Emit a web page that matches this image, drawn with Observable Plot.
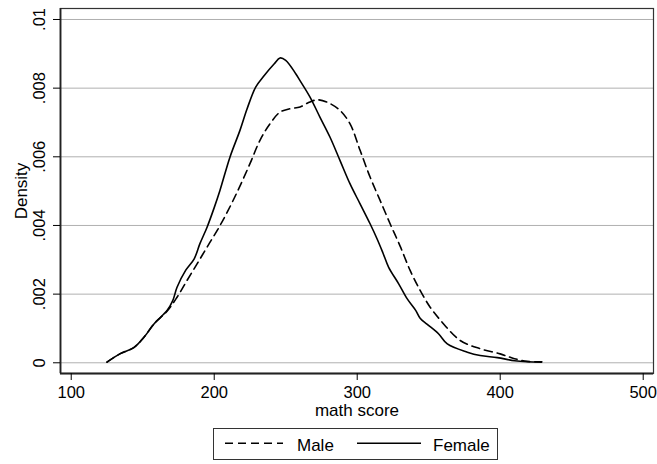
<!DOCTYPE html>
<html>
<head>
<meta charset="utf-8">
<script src="https://cdn.jsdelivr.net/npm/d3@7"></script>
<script src="https://cdn.jsdelivr.net/npm/@observablehq/plot@0.6"></script>
<style>
  html, body { margin: 0; padding: 0; background: #fff; }
  #wrap { position: relative; width: 657px; height: 464px; font-family: "Liberation Sans", Arial, sans-serif; }
  #legend { position: absolute; left: 213px; top: 428px; width: 285px; height: 32px; box-sizing: border-box; border: 1px solid #333; }
</style>
</head>
<body>
<div id="wrap"><div id="chart"></div><div id="legend"></div></div>
<script>
// Female (solid) kernel density: score, density
const femaleX = [125,134,144,151,158,167,171,174,180,186,190,195,200,204,211,218,223,229,235,242,246,250,257,260,267,274,281,288,295,302,309,314,318,322,329,335,341,344,349,357,363,377,386,398,410,419,429];
const femaleY = [0.00002,0.00026,0.00045,0.00075,0.00114,0.00152,0.00181,0.0022,0.00269,0.00303,0.00347,0.00395,0.00452,0.00502,0.00599,0.00677,0.0074,0.00803,0.00837,0.00871,0.00888,0.00881,0.00842,0.00822,0.00774,0.00715,0.00657,0.00589,0.00521,0.00463,0.00405,0.0036,0.0032,0.00278,0.0023,0.00186,0.00152,0.0013,0.00112,0.00084,0.00055,0.00031,0.00021,0.00015,0.00006,0.00003,0.00002];
// Male (dashed)
const maleX = [125,134,144,151,158,167,174,181,188,195,202,208,216,225,232,239,246,253,260,266,272,279,288,295,302,309,316,323,330,337,344,351,358,372,386,400,410,419,429];
const maleY = [0.00002,0.00026,0.00045,0.00075,0.00114,0.0015,0.00191,0.0024,0.00288,0.00337,0.00385,0.0043,0.00497,0.0058,0.00648,0.00696,0.0073,0.0074,0.00745,0.00758,0.00766,0.00759,0.00735,0.00696,0.00619,0.00541,0.00473,0.00405,0.0034,0.00269,0.00211,0.00162,0.00125,0.00065,0.00041,0.00026,0.00012,0.00004,0.00003];

const xTicks = [100,200,300,400,500];
const yTicks = [0,0.002,0.004,0.006,0.008,0.01];
const yTickLabels = ["0",".002",".004",".006",".008",".01"];
const seriesNames = ["Male","Female"];
const xTitle = "math score";
const yTitle = "Density";

const xDomain = [92.5, 507.2];
const yDomain = [-0.000312, 0.01032];

const female = femaleX.map((x,i) => ({x, y: femaleY[i]}));
const male = maleX.map((x,i) => ({x, y: maleY[i]}));

const chart = Plot.plot({
  width: 657, height: 420,
  marginLeft: 60, marginRight: 4, marginTop: 8, marginBottom: 47,
  x: {domain: xDomain},
  y: {domain: yDomain},
  style: {fontFamily: '"Liberation Sans", Arial, sans-serif', fontSize: "16.5px", color: "#000", background: "#fff"},
  marks: [
    Plot.gridY(yTicks, {stroke: "#b0b0b0", strokeOpacity: 1, strokeWidth: 1}),
    Plot.frame({stroke: "#333", strokeWidth: 1.2}),
    Plot.ruleX([xDomain[0]], {stroke: "#222", strokeWidth: 1.8}),
    Plot.ruleY([yDomain[0]], {stroke: "#222", strokeWidth: 1.8}),
    Plot.line(male, {x: "x", y: "y", stroke: "#000", strokeWidth: 1.6, strokeDasharray: "8,5", curve: "catmull-rom"}),
    Plot.line(female, {x: "x", y: "y", stroke: "#000", strokeWidth: 1.6, curve: "catmull-rom"}),
    Plot.axisX({ticks: xTicks, tickSize: 7, tickPadding: 6, label: null, fontSize: 16.5}),
    Plot.axisY({ticks: yTicks, tickSize: 7, tickFormat: () => "", label: null}),
    Plot.text(yTicks, {y: d => d, text: (d, i) => yTickLabels[i], frameAnchor: "left", dx: -16, rotate: -90, textAnchor: "middle", lineAnchor: "bottom", fontSize: 16.5}),
    Plot.text([xTitle], {frameAnchor: "bottom", dy: 42.5, lineAnchor: "bottom", fontSize: 17}),
    Plot.text([yTitle], {frameAnchor: "left", dx: -33.3, rotate: -90, textAnchor: "middle", lineAnchor: "bottom", fontSize: 17})
  ]
});
document.getElementById("chart").appendChild(chart);

// Legend
const lg = d3.select("#legend").append("svg").attr("width", 283).attr("height", 30)
  .style("display", "block").style("font-family", '"Liberation Sans", Arial, sans-serif').style("font-size", "17px");
const items = [
  {name: seriesNames[0], x0: 11, x1: 69, tx: 83, dash: "8,5"},
  {name: seriesNames[1], x0: 143, x1: 207, tx: 219, dash: null}
];
items.forEach(it => {
  lg.append("line").attr("x1", it.x0).attr("x2", it.x1).attr("y1", 14.3).attr("y2", 14.3)
    .attr("stroke", "#000").attr("stroke-width", 1.6).attr("stroke-dasharray", it.dash);
  lg.append("text").attr("x", it.tx).attr("y", 21.7).text(it.name);
});
</script>
</body>
</html>
